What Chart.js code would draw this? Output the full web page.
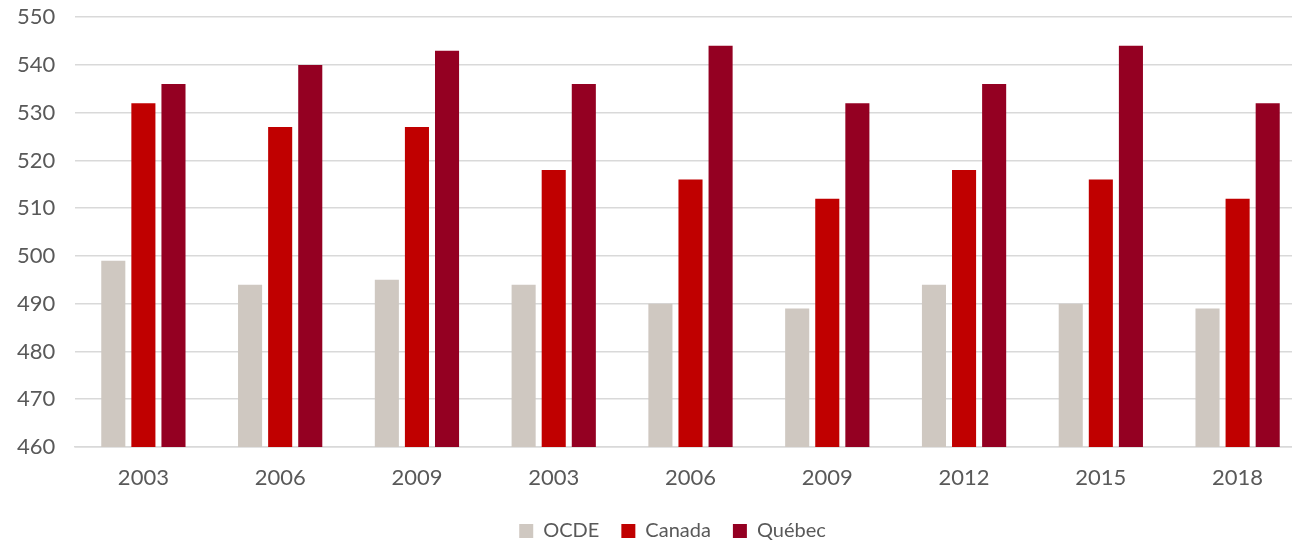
<!DOCTYPE html>
<html>
<head>
<meta charset="utf-8">
<script src="https://cdn.jsdelivr.net/npm/chart.js@4/dist/chart.umd.min.js"></script>
<style>
  html, body { margin: 0; padding: 0; background: #fff; overflow: hidden; }
  #wrap { width: 1306px; height: 551px; position: relative; }
</style>
</head>
<body>
<div id="wrap"><canvas id="chart"></canvas></div>
<script>
// Values
const categories = ['2003', '2006', '2009', '2003', '2006', '2009', '2012', '2015', '2018'];
const ocde   = [499, 494, 495, 494, 490, 489, 494, 490, 489];
const canada = [532, 527, 527, 518, 516, 512, 518, 516, 512];
const quebec = [536, 540, 543, 536, 544, 532, 536, 544, 532];
const yTicks = [460, 470, 480, 490, 500, 510, 520, 530, 540, 550];

const GREY_TEXT = '#595959';
const FONT = 'Lato, "Liberation Sans", sans-serif';

function bar(label, data, color) {
  return {
    label: label,
    data: data,
    backgroundColor: color,
    categoryPercentage: 0.66,
    barPercentage: 0.8
  };
}

// nudge the legend a little to the right, like the original
const legendShift = {
  id: 'legendShift',
  afterLayout(chart) {
    if (chart.legend) {
      chart.legend.left += 11;
      chart.legend.right += 11;
    }
  }
};

const ctx = document.getElementById('chart').getContext('2d');
new Chart(ctx, {
  type: 'bar',
  data: {
    labels: categories,
    datasets: [
      bar('OCDE', ocde, '#cfc8c1'),
      bar('Canada', canada, '#c00000'),
      bar('Québec', quebec, '#940022')
    ]
  },
  plugins: [legendShift],
  options: {
    responsive: true,
    maintainAspectRatio: false,
    animation: false,
    layout: { padding: { top: 0, left: 17, right: 0, bottom: 0 } },
    scales: {
      x: {
        afterFit: axis => { axis.height = 52; },
        grid: { display: false, drawTicks: false },
        border: { display: true, color: '#d9d9d9', width: 1.5 },
        ticks: { color: GREY_TEXT, font: { family: FONT, size: 22 }, padding: 18 }
      },
      y: {
        min: 460,
        max: 550,
        afterBuildTicks: axis => { axis.ticks = yTicks.map(v => ({ value: v })); },
        afterFit: axis => { axis.width = 58; },
        grid: { color: '#d9d9d9', lineWidth: 1.5, drawTicks: false },
        border: { display: false },
        ticks: { color: GREY_TEXT, font: { family: FONT, size: 22 }, padding: 4, crossAlign: 'far' }
      }
    },
    plugins: {
      legend: {
        position: 'bottom',
        labels: {
          color: GREY_TEXT,
          font: { family: FONT, size: 20 },
          boxWidth: 14,
          boxHeight: 14,
          padding: 22
        }
      },
      tooltip: { enabled: false }
    }
  }
});
</script>
</body>
</html>
